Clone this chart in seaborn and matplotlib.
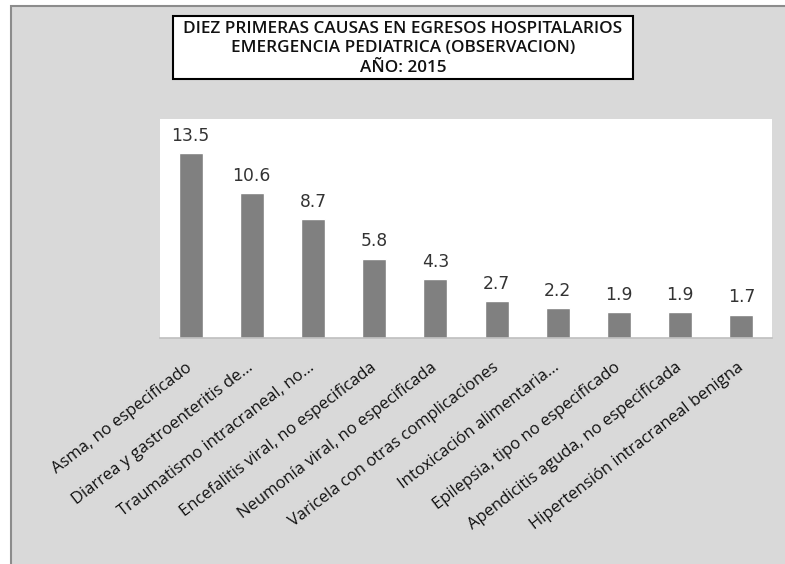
import matplotlib
matplotlib.use("Agg")
import matplotlib.pyplot as plt
from matplotlib.patches import Rectangle
import seaborn as sb
import pandas as pd

# Causes and percentages
causas = [
    "Asma, no especificado",
    "Diarrea y gastroenteritis de…",
    "Traumatismo intracraneal, no…",
    "Encefalitis viral, no especificada",
    "Neumonía viral, no especificada",
    "Varicela con otras complicaciones",
    "Intoxicación alimentaria…",
    "Epilepsia, tipo no especificado",
    "Apendicitis aguda, no especificada",
    "Hipertensión intracraneal benigna",
]
valores = [13.5, 10.6, 8.7, 5.8, 4.3, 2.7, 2.2, 1.9, 1.9, 1.7]
titulo = ["DIEZ PRIMERAS CAUSAS EN EGRESOS HOSPITALARIOS",
          "EMERGENCIA PEDIATRICA (OBSERVACION)",
          "AÑO: 2015"]

W, H = 785, 564
df = pd.DataFrame({"causa": causas, "valor": valores})

sb.set_style("white")
fig = plt.figure(figsize=(W / 100, H / 100), dpi=100)
fig.patch.set_facecolor("white")

# Gray chart area with its border (behind the axes)
fig.patches.append(Rectangle((11 / W, -0.01), 1.0, 1 - 6 / H + 0.01,
                             transform=fig.transFigure, facecolor="#d9d9d9",
                             edgecolor="#8c8c8c", linewidth=1.5, zorder=-5))

# Title box
fig.patches.append(Rectangle((173 / W, 1 - 79 / H), (633 - 173) / W, 63 / H,
                             transform=fig.transFigure, facecolor="white",
                             edgecolor="black", linewidth=1.5, zorder=1))
for i, linea in enumerate(titulo):
    fig.text(403 / W, 1 - (29 + 19.5 * i) / H, linea, ha="center", va="center",
             fontsize=12.3, fontweight="semibold", family="Open Sans",
             color="#111111", zorder=2)

ax = fig.add_axes([160 / W, 1 - 338 / H, (772 - 160) / W, (338 - 119) / H])
ax.set_facecolor("white")
sb.barplot(data=df, x="causa", y="valor", color="#808080", saturation=1,
           width=0.39, ax=ax)
ax.bar_label(ax.containers[0], labels=[f"{v:.1f}" for v in valores],
             padding=6, fontsize=12.3, color="#333333")

ax.set_ylim(0, 16)
ax.set_xlim(-0.5, len(causas) - 0.5)
ax.set_xlabel("")
ax.set_ylabel("")
ax.set_yticks([])
for s in ["top", "right", "left"]:
    ax.spines[s].set_visible(False)
ax.spines["bottom"].set_color("#bfbfbf")
ax.spines["bottom"].set_linewidth(1.2)
ax.tick_params(axis="x", length=0, pad=20)
plt.setp(ax.get_xticklabels(), rotation=37.5, ha="right", va="center",
         rotation_mode="anchor", fontsize=12, family="Open Sans",
         color="#111111")

fig.savefig("out.png", dpi=100)
